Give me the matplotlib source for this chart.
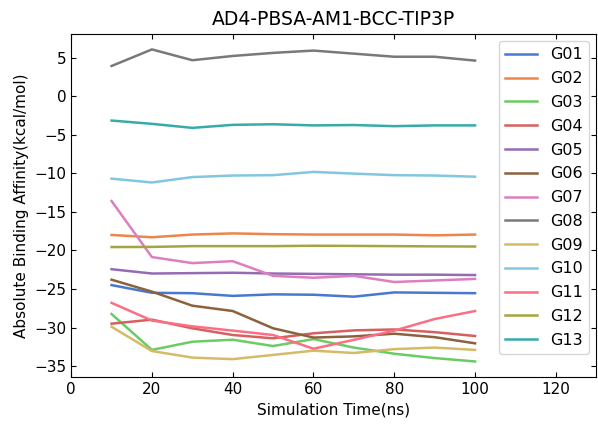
import matplotlib
matplotlib.use("Agg")
import matplotlib.pyplot as plt

# simulation times (ns)
time_ns = [10, 20, 30, 40, 50, 60, 70, 80, 90, 100]

G01 = [-24.5, -25.5, -25.55, -25.9, -25.7, -25.75, -26.0, -25.45, -25.5, -25.55]
G02 = [-18.0, -18.3, -17.95, -17.8, -17.9, -17.95, -17.95, -17.95, -18.05, -17.95]
G03 = [-28.25, -32.9, -31.84, -31.58, -32.4, -31.5, -32.6, -33.4, -33.96, -34.4]
G04 = [-29.5, -28.98, -30.1, -30.97, -31.4, -30.75, -30.37, -30.25, -30.6, -31.1]
G05 = [-22.44, -23.0, -22.95, -22.9, -23.0, -23.05, -23.1, -23.15, -23.15, -23.2]
G06 = [-23.8, -25.35, -27.17, -27.86, -30.1, -31.3, -31.15, -30.8, -31.25, -32.05]
G07 = [-13.6, -20.87, -21.65, -21.4, -23.3, -23.55, -23.3, -24.1, -23.9, -23.7]
G08 = [3.9, 6.05, 4.65, 5.2, 5.6, 5.9, 5.5, 5.1, 5.1, 4.6]
G09 = [-29.9, -33.05, -33.9, -34.1, -33.55, -33.0, -33.3, -32.8, -32.6, -32.9]
G10 = [-10.7, -11.2, -10.5, -10.3, -10.25, -9.83, -10.05, -10.25, -10.3, -10.45]
G11 = [-26.8, -29.1, -29.85, -30.4, -30.97, -32.75, -31.6, -30.4, -28.9, -27.86]
G12 = [-19.57, -19.55, -19.45, -19.45, -19.45, -19.4, -19.42, -19.45, -19.48, -19.5]
G13 = [-3.17, -3.6, -4.12, -3.73, -3.65, -3.8, -3.75, -3.9, -3.8, -3.8]

names = ["G01", "G02", "G03", "G04", "G05", "G06", "G07",
         "G08", "G09", "G10", "G11", "G12", "G13"]
series = [G01, G02, G03, G04, G05, G06, G07, G08, G09, G10, G11, G12, G13]
colors = ["#4878d0", "#ee854a", "#6acc64", "#d65f5f", "#956cb4", "#8c613c",
          "#dc7ec0", "#797979", "#d5bb67", "#82c6e2", "#fb6f86", "#a5a53f",
          "#37abaa"]

fig = plt.figure(figsize=(5.98, 4.28), dpi=100)
ax = fig.add_axes([0.119, 0.119, 0.878, 0.802])

for name, vals, c in zip(names, series, colors):
    ax.plot(time_ns, vals, color=c, lw=1.8, label=name)

ax.set_xlim(0, 130)
ax.set_xticks([0, 20, 40, 60, 80, 100, 120])
ax.tick_params(direction="in", top=True, right=True, labelsize=11)
ax.set_title("AD4-PBSA-AM1-BCC-TIP3P", fontsize=13.5)
ax.set_xlabel("Simulation Time(ns)", fontsize=11)
ax.set_ylabel("Absolute Binding Affinity(kcal/mol)", fontsize=11)
ax.legend(loc="upper right", fontsize=11.5, labelspacing=0.55,
          borderaxespad=0.45)

fig.savefig("out.png", dpi=100)
